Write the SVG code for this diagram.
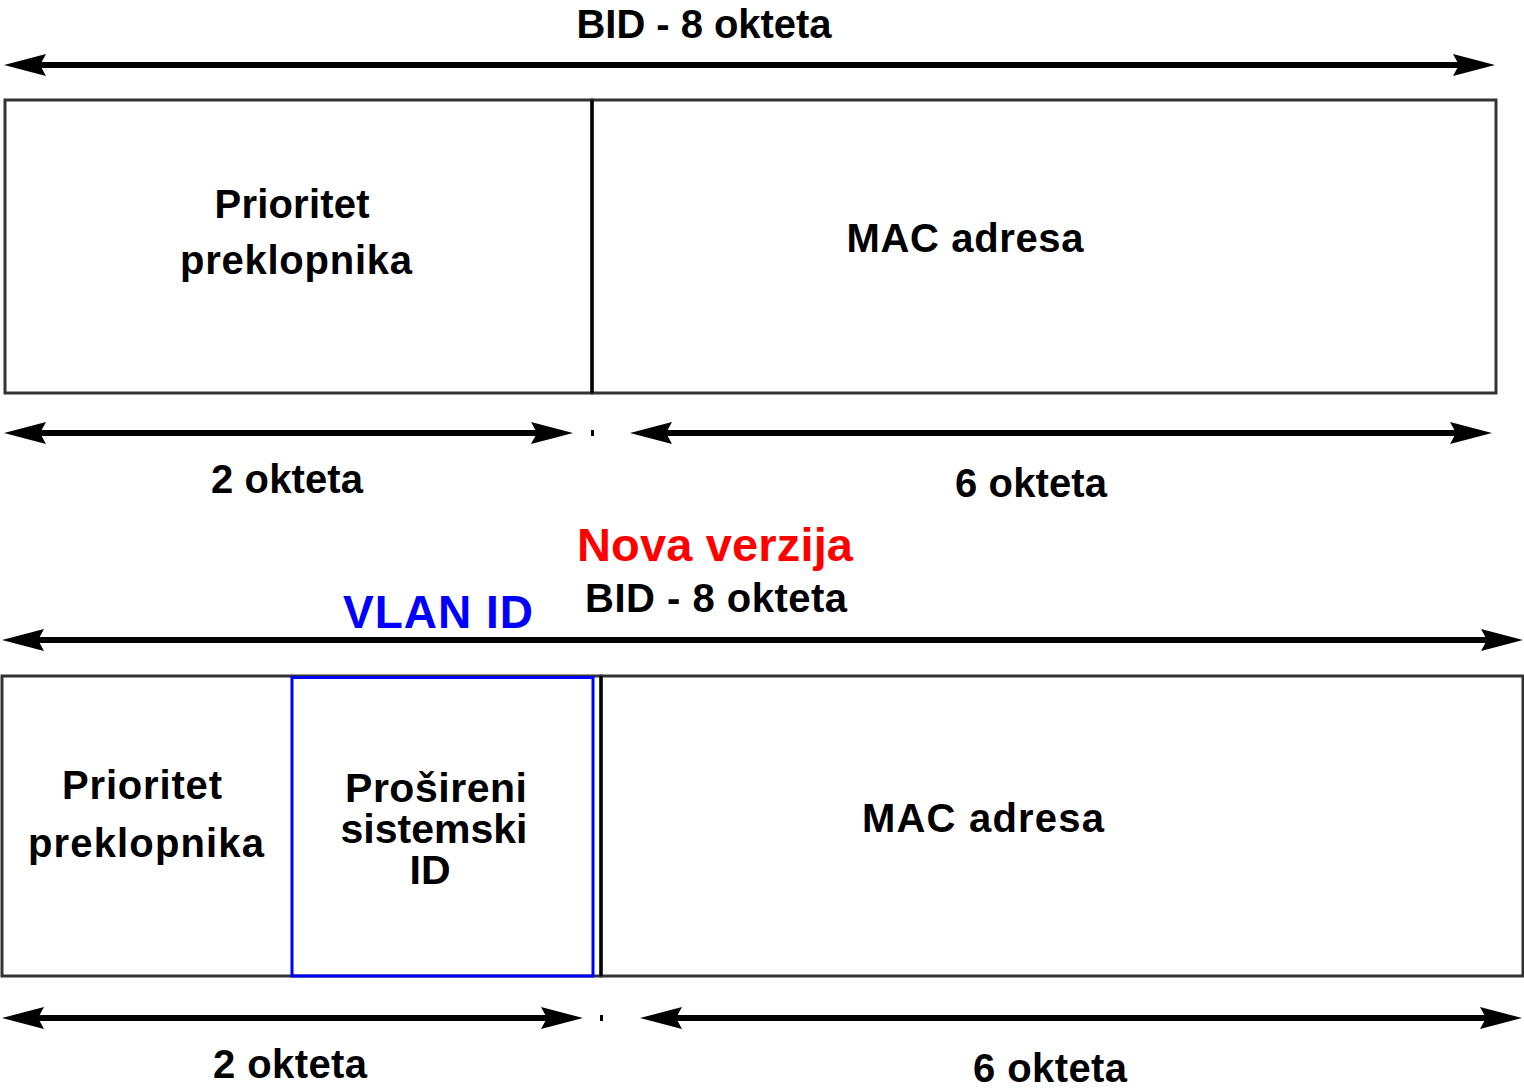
<svg xmlns="http://www.w3.org/2000/svg" width="1524" height="1088" viewBox="0 0 1524 1088">
<defs>
<style>
.t{font-family:"Liberation Sans",Arial,sans-serif;font-weight:bold;fill:#000;text-anchor:middle;}
.box{fill:none;stroke:#333;stroke-width:3;}
.div{stroke:#000;stroke-width:3;}
.ar{stroke:#000;stroke-width:6;fill:none;marker-start:url(#ah);marker-end:url(#ah);}
</style>
<marker id="ah" viewBox="0 0 42 22" refX="12" refY="11" markerWidth="42" markerHeight="22" markerUnits="userSpaceOnUse" orient="auto-start-reverse">
<path d="M0,0 L42,11 L0,22 L6,11 Z" fill="#000"/>
</marker>
</defs>
<rect width="1524" height="1088" fill="#fff"/>

<g id="top-section">
<g id="top-bid-label"><text class="t" x="704" y="38" font-size="40" textLength="255" lengthAdjust="spacing">BID - 8 okteta</text></g>
<g id="top-prioritet">
<rect class="box" x="5" y="100" width="587" height="293"/>
<text class="t" x="292" y="218" font-size="40" textLength="155" lengthAdjust="spacing">Prioritet</text>
<text class="t" x="296" y="274" font-size="40" textLength="232" lengthAdjust="spacing">preklopnika</text>
</g>
<g id="top-mac">
<rect class="box" x="592" y="100" width="904" height="293"/>
<line class="div" x1="592" y1="100" x2="592" y2="393"/>
<text class="t" x="965" y="252" font-size="40" textLength="237" lengthAdjust="spacing">MAC adresa</text>
</g>
<g id="top-2okteta"><text class="t" x="287" y="493" font-size="40" textLength="152" lengthAdjust="spacing">2 okteta</text></g>
<g id="top-6okteta"><text class="t" x="1031" y="497" font-size="40" textLength="152" lengthAdjust="spacing">6 okteta</text></g>
</g>

<g id="nova-verzija"><text class="t" x="715" y="561" font-size="47" style="fill:#ff0000" textLength="276" lengthAdjust="spacing">Nova verzija</text></g>

<g id="bottom-section">
<g id="bottom-bid-label"><text class="t" x="716" y="612" font-size="40" textLength="262" lengthAdjust="spacing">BID - 8 okteta</text></g>
<g id="vlan-id-label"><text class="t" x="438" y="628" font-size="46" style="fill:#0000ff" textLength="190" lengthAdjust="spacing">VLAN ID</text></g>
<g id="bottom-prioritet">
<rect class="box" x="2" y="676" width="599" height="300"/>
<text class="t" x="142" y="799" font-size="40" textLength="160" lengthAdjust="spacing">Prioritet</text>
<text class="t" x="146" y="857" font-size="40" textLength="236" lengthAdjust="spacing">preklopnika</text>
</g>
<g id="bottom-prosireni">
<rect x="292" y="677.5" width="301" height="298.5" fill="none" stroke="#0000ff" stroke-width="3"/>
<text class="t" x="436" y="802" font-size="41" textLength="182" lengthAdjust="spacing">Prošireni</text>
<text class="t" x="434" y="843" font-size="41">sistemski</text>
<text class="t" x="430" y="884" font-size="41">ID</text>
</g>
<g id="bottom-mac">
<rect class="box" x="601" y="676" width="922" height="300"/>
<line class="div" x1="601" y1="676" x2="601" y2="976"/>
<text class="t" x="983" y="832" font-size="40" textLength="242" lengthAdjust="spacing">MAC adresa</text>
</g>
<g id="bottom-2okteta"><text class="t" x="290" y="1078" font-size="40" textLength="154" lengthAdjust="spacing">2 okteta</text></g>
<g id="bottom-6okteta"><text class="t" x="1050" y="1082" font-size="40" textLength="154" lengthAdjust="spacing">6 okteta</text></g>
</g>

<g id="connectors">
<line class="ar" x1="34" y1="65" x2="1465" y2="65"/>
<line class="ar" x1="34" y1="433" x2="543" y2="433"/>
<line class="ar" x1="660" y1="433" x2="1462" y2="433"/>
<line class="ar" x1="32" y1="640" x2="1493" y2="640"/>
<line class="ar" x1="32" y1="1018" x2="553" y2="1018"/>
<line class="ar" x1="670" y1="1018" x2="1492" y2="1018"/>
<rect x="591" y="430" width="3" height="6" fill="#000"/>
<rect x="600" y="1015" width="3" height="6" fill="#000"/>
</g>
</svg>
